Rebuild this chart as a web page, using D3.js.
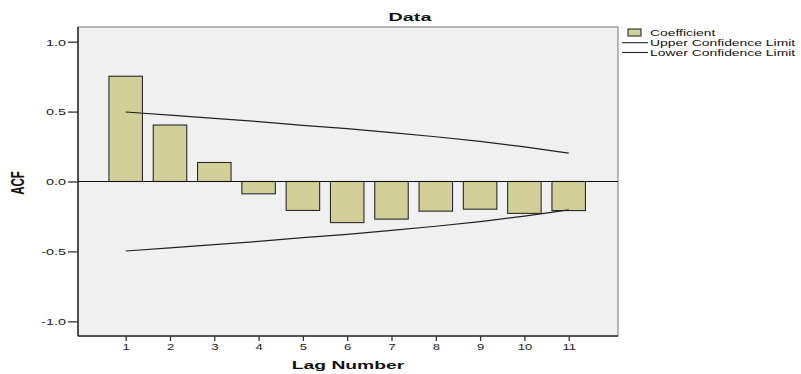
<!DOCTYPE html>
<html>
<head>
<meta charset="utf-8">
<script src="https://cdn.jsdelivr.net/npm/d3@7"></script>
<style>
  body { margin: 0; background: #ffffff; }
  text { font-family: "Liberation Sans", Arial, sans-serif; fill: #111; }
</style>
</head>
<body>
<script>
// values
var lags = [1, 2, 3, 4, 5, 6, 7, 8, 9, 10, 11];
var coefficient = [0.753, 0.404, 0.136, -0.088, -0.207, -0.294, -0.269, -0.212, -0.198, -0.228, -0.208];
var upperLimit = [0.497, 0.475, 0.452, 0.428, 0.402, 0.378, 0.350, 0.320, 0.287, 0.247, 0.203];
var lowerLimit = [-0.497, -0.475, -0.452, -0.428, -0.402, -0.378, -0.350, -0.320, -0.287, -0.247, -0.203];
var yTicks = [-1.0, -0.5, 0.0, 0.5, 1.0];
var legendLabels = ["Coefficient", "Upper Confidence Limit", "Lower Confidence Limit"];

var barfill = "#d3cf98";
var plotfill = "#f0f0f0";

var svg = d3.select("body")
    .append("svg")
    .attr("width", 801)
    .attr("height", 374);

// plot box (window.top is taken, so own names)
var pLeft = 78, pRight = 618, pTop = 27, pBottom = 336;

var x = d3.scaleLinear().domain([1, 11]).range([125.7, 568.7]);
var y = d3.scaleLinear().domain([-1.105, 1.105]).range([pBottom, pTop]);
var barW = 33.5;

// plot background
svg.append("rect")
    .attr("x", pLeft).attr("y", pTop)
    .attr("width", pRight - pLeft).attr("height", pBottom - pTop)
    .style("fill", plotfill)
    .style("stroke", "#8a8a8a")
    .style("stroke-width", 1.2);

// darker left + bottom axis lines
svg.append("line").attr("x1", pLeft).attr("x2", pLeft).attr("y1", pTop).attr("y2", pBottom)
    .style("stroke", "#333").style("stroke-width", 1.6);
svg.append("line").attr("x1", pLeft).attr("x2", pRight).attr("y1", pBottom).attr("y2", pBottom)
    .style("stroke", "#333").style("stroke-width", 1.6);

// bars
svg.selectAll(".bar")
    .data(lags)
    .enter().append("rect")
    .attr("class", "bar")
    .attr("x", function(d) { return x(d) - barW / 2; })
    .attr("width", barW)
    .attr("y", function(d, i) { return y(Math.max(0, coefficient[i])); })
    .attr("height", function(d, i) { return Math.abs(y(coefficient[i]) - y(0)); })
    .style("fill", barfill)
    .style("stroke", "#2a2a2a")
    .style("stroke-width", 1.1);

// zero line
svg.append("line")
    .attr("x1", pLeft).attr("x2", pRight)
    .attr("y1", y(0)).attr("y2", y(0))
    .style("stroke", "#111").style("stroke-width", 1.1);

// confidence limits
var line = d3.line()
    .x(function(d) { return x(d[0]); })
    .y(function(d) { return y(d[1]); });

svg.append("path")
    .datum(lags.map(function(d, i) { return [d, upperLimit[i]]; }))
    .attr("d", line)
    .style("fill", "none").style("stroke", "#222").style("stroke-width", 1.2);

svg.append("path")
    .datum(lags.map(function(d, i) { return [d, lowerLimit[i]]; }))
    .attr("d", line)
    .style("fill", "none").style("stroke", "#222").style("stroke-width", 1.2);

// y axis
var yAxis = svg.append("g")
    .attr("transform", "translate(" + pLeft + ",0)")
    .call(d3.axisLeft(y).tickValues(yTicks).tickSize(10).tickFormat(function(d) { return d.toFixed(1); }));
yAxis.select(".domain").remove();
yAxis.selectAll(".tick line").style("stroke", "#333").style("stroke-width", 1.3);
yAxis.selectAll(".tick text")
    .attr("x", null).attr("dy", null)
    .attr("transform", "translate(-12,3.4) scale(1.55,1)")
    .style("font-size", "9.3px").style("fill", "#222");

// x axis
var xAxis = svg.append("g")
    .attr("transform", "translate(0," + pBottom + ")")
    .call(d3.axisBottom(x).tickValues(lags).tickSize(5).tickFormat(d3.format("d")));
xAxis.select(".domain").remove();
xAxis.selectAll(".tick line").style("stroke", "#333").style("stroke-width", 1.3);
xAxis.selectAll(".tick text")
    .attr("y", null).attr("dy", null)
    .attr("transform", "translate(0,14) scale(1.45,1)")
    .style("font-size", "9px").style("fill", "#222");

// title + axis labels
svg.append("text")
    .attr("transform", "translate(410,21) scale(1.72,1)")
    .attr("text-anchor", "middle")
    .style("font-size", "11.5px").style("font-weight", "bold")
    .text("Data");

svg.append("text")
    .attr("transform", "translate(348,369) scale(1.68,1)")
    .attr("text-anchor", "middle")
    .style("font-size", "11.5px").style("font-weight", "bold")
    .text("Lag Number");

svg.append("text")
    .attr("transform", "translate(24,183) scale(1.6,1) rotate(-90)")
    .attr("text-anchor", "middle")
    .style("font-size", "11.5px").style("font-weight", "bold")
    .text("ACF");

// legend
var legend = svg.append("g");
legend.append("rect")
    .attr("x", 628).attr("y", 29)
    .attr("width", 13).attr("height", 7)
    .style("fill", barfill).style("stroke", "#2a2a2a").style("stroke-width", 1.1);
legend.append("line").attr("x1", 622).attr("x2", 648).attr("y1", 42.7).attr("y2", 42.7)
    .style("stroke", "#222").style("stroke-width", 1.1);
legend.append("line").attr("x1", 622).attr("x2", 648).attr("y1", 52.5).attr("y2", 52.5)
    .style("stroke", "#222").style("stroke-width", 1.1);

legend.selectAll(".legtext")
    .data(legendLabels)
    .enter().append("text")
    .attr("class", "legtext")
    .attr("transform", function(d, i) { return "translate(650," + (36 + i * 10) + ") scale(1.58,1)"; })
    .style("font-size", "8.8px").style("fill", "#111")
    .text(function(d) { return d; });
</script>
</body>
</html>
